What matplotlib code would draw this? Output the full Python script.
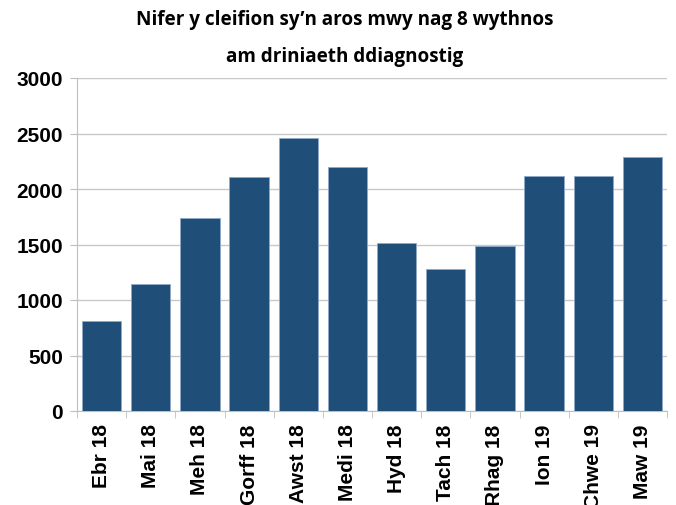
import matplotlib
matplotlib.use("Agg")
import matplotlib.pyplot as plt
import numpy as np

categories = ["Ebr 18", "Mai 18", "Meh 18", "Gorff 18", "Awst 18", "Medi 18",
              "Hyd 18", "Tach 18", "Rhag 18", "Ion 19", "Chwe 19", "Maw 19"]
values = [815, 1145, 1740, 2105, 2460, 2200, 1510, 1275, 1490, 2115, 2115, 2285]
yticks = [0, 500, 1000, 1500, 2000, 2500, 3000]
title_lines = ["Nifer y cleifion sy\u2019n aros mwy nag 8 wythnos", "am driniaeth ddiagnostig"]

plt.rcParams['font.family'] = ['Liberation Sans', 'DejaVu Sans']

fig = plt.figure(figsize=(6.76, 5.06), dpi=100)
ax = fig.add_axes([77/676, 1 - 412/506, (667-77)/676, (412-79)/506])

x = np.arange(len(categories))
ax.bar(x, values, width=0.8, color="#1F4E79", edgecolor="#8EA9C8", linewidth=0.6, zorder=3)

ax.set_xlim(-0.5, len(categories) - 0.5)
ax.set_ylim(0, 3000)
ax.set_yticks(yticks)
ax.set_yticklabels([str(v) for v in yticks], fontsize=15, fontweight='bold')
ax.set_xticks(x)
ax.set_xticklabels(categories, rotation=90, fontsize=15, fontweight='bold')
ax.tick_params(axis='x', which='major', length=0, pad=9)
ax.set_xticks(np.arange(-0.5, len(categories), 1), minor=True)
ax.tick_params(axis='x', which='minor', length=5, color='#BFBFBF')
ax.tick_params(axis='y', length=5, color='#BFBFBF', pad=5)

ax.grid(axis='y', color='#C8C8C8', linewidth=1, zorder=0)
for s in ['top', 'right']:
    ax.spines[s].set_visible(False)
for s in ['left', 'bottom']:
    ax.spines[s].set_color('#BFBFBF')

for i, (line, ypx) in enumerate(zip(title_lines, [20, 57])):
    fig.text(345/676, 1 - ypx/506, line, ha='center', va='center',
             fontsize=13.6, fontweight='bold', family=['Open Sans', 'DejaVu Sans'])

fig.savefig("out.png", dpi=100)
